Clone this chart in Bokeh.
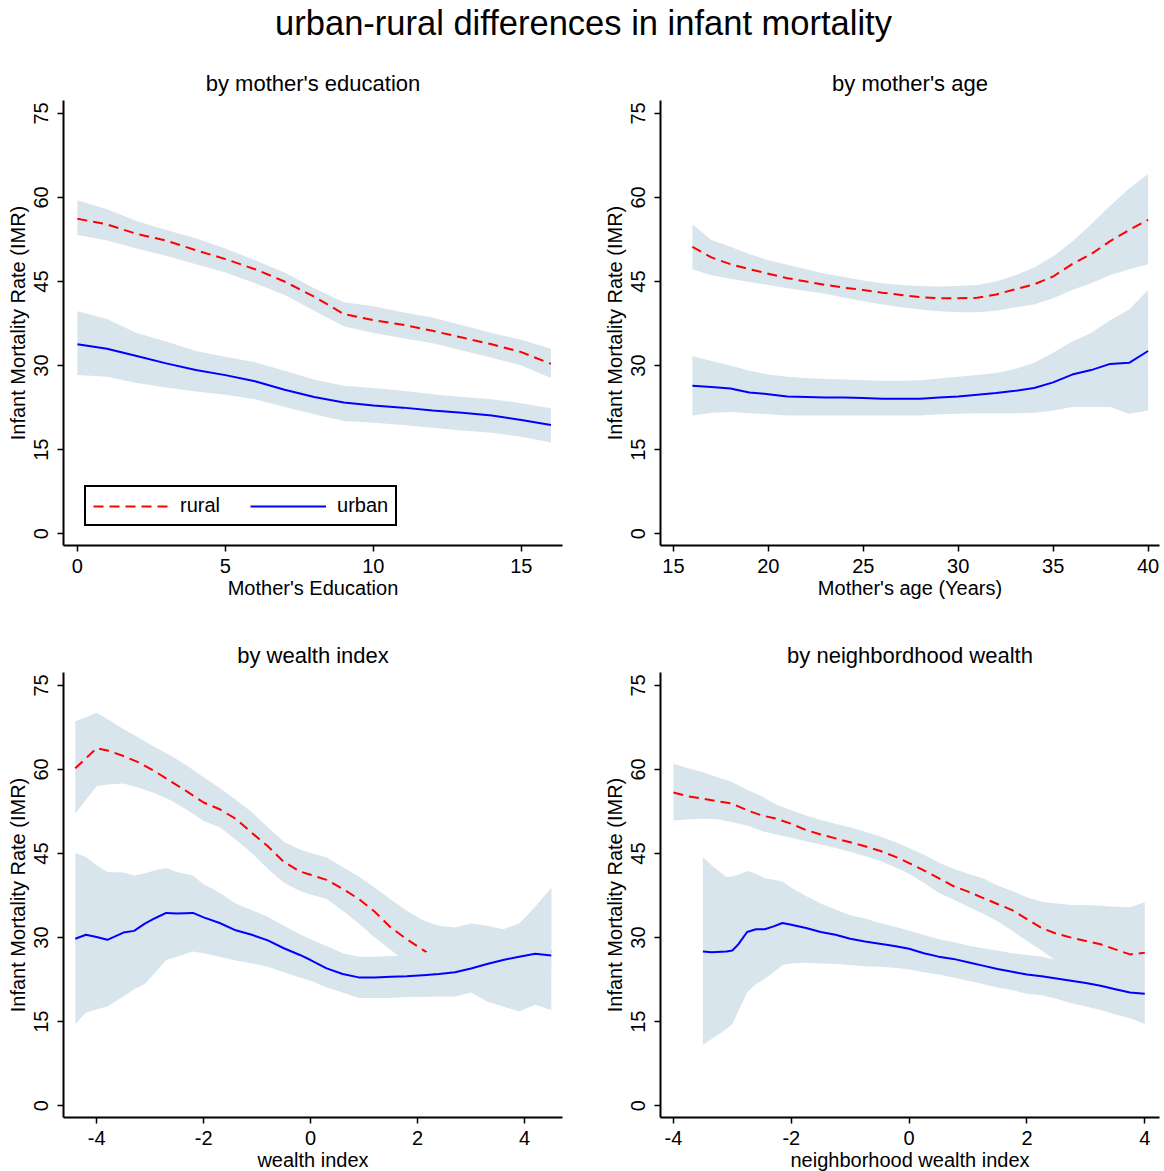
import math
from bokeh.plotting import figure
from bokeh.layouts import column, row
from bokeh.models import (ColumnDataSource, FixedTicker, Range1d, Legend, LegendItem, Label,
                          CustomJSTickFormatter)
from bokeh.embed import file_html
from bokeh.resources import INLINE

FONT = "Liberation Sans"
BAND = "#d9e5ec"
RED = "#ff0000"
BLUE = "#0000ff"

y_ticks = [0, 15, 30, 45, 60, 75]

# ---- panel 1: by mother's education ----
edu_x = list(range(17))
edu_rural = [56.2, 55.2, 53.5, 52.3, 50.6, 49.0, 47.2, 45.0, 42.3, 39.2, 38.1, 37.3, 36.2, 35.0, 33.8, 32.4, 30.3]
edu_rural_hi = [59.5, 57.9, 55.8, 54.2, 52.7, 50.9, 48.8, 46.6, 43.8, 41.3, 40.6, 39.5, 38.6, 37.2, 35.8, 34.6, 33.0]
edu_rural_lo = [53.3, 52.3, 50.9, 49.6, 48.1, 46.6, 44.7, 42.6, 39.8, 37.0, 35.8, 34.9, 34.0, 32.7, 31.4, 30.0, 27.8]
edu_urban = [33.8, 33.0, 31.7, 30.4, 29.2, 28.3, 27.2, 25.7, 24.4, 23.4, 22.9, 22.5, 22.0, 21.6, 21.1, 20.3, 19.4]
edu_urban_hi = [39.7, 38.3, 35.8, 34.3, 32.6, 31.6, 30.6, 29.1, 27.5, 26.4, 26.0, 25.5, 24.9, 24.4, 24.0, 23.3, 22.4]
edu_urban_lo = [28.3, 28.0, 26.9, 26.1, 25.4, 24.8, 24.0, 22.6, 21.3, 20.1, 19.8, 19.4, 18.9, 18.4, 18.0, 17.3, 16.3]
edu_ticks = [0, 5, 10, 15]

# ---- panel 2: by mother's age ----
age_x = list(range(16, 41))
age_rural = [51.2, 49.3, 48.1, 47.2, 46.4, 45.6, 45.0, 44.4, 43.9, 43.5, 43.0, 42.6, 42.2, 42.0, 42.0, 42.1, 42.7, 43.6, 44.5, 45.9, 48.1, 49.9, 52.2, 54.2, 56.0]
age_rural_hi = [55.2, 52.4, 51.2, 49.9, 48.8, 48.0, 47.2, 46.4, 45.8, 45.2, 44.7, 44.4, 44.2, 44.1, 44.2, 44.4, 45.0, 46.1, 47.5, 49.5, 52.1, 55.2, 58.5, 61.6, 64.2]
age_rural_lo = [47.2, 46.1, 45.5, 44.9, 44.4, 43.8, 43.3, 42.8, 42.1, 41.5, 40.9, 40.4, 40.0, 39.7, 39.5, 39.5, 39.8, 40.4, 40.9, 42.0, 43.5, 44.7, 46.1, 47.2, 48.1]
age_urban = [26.4, 26.2, 25.9, 25.2, 24.9, 24.5, 24.4, 24.3, 24.3, 24.2, 24.1, 24.1, 24.1, 24.3, 24.5, 24.8, 25.1, 25.5, 26.0, 27.0, 28.4, 29.2, 30.3, 30.5, 32.6]
age_urban_hi = [31.7, 30.8, 30.0, 29.1, 28.4, 28.0, 27.8, 27.6, 27.5, 27.4, 27.3, 27.3, 27.4, 27.7, 28.0, 28.3, 28.7, 29.4, 30.5, 32.3, 34.3, 35.8, 38.1, 40.0, 43.5]
age_urban_lo = [21.1, 21.6, 21.7, 21.5, 21.3, 21.1, 21.1, 21.1, 21.1, 21.1, 21.1, 21.1, 21.1, 21.3, 21.4, 21.5, 21.5, 21.5, 21.6, 22.0, 22.6, 22.6, 22.6, 21.4, 22.0]
age_ticks = [15, 20, 25, 30, 35, 40]

# ---- panel 3: by wealth index ----
wi_rural_x = [-4.4, -4.2, -4.0, -3.8, -3.5, -3.2, -2.9, -2.6, -2.3, -2.0, -1.7, -1.4, -1.1, -0.8, -0.5, -0.2, 0.0, 0.3, 0.6, 0.9, 1.2, 1.5, 1.8, 2.1, 2.4, 2.7, 3.0, 3.3, 3.6, 3.9, 4.2, 4.5]
wi_rural = [60.2, 62.0, 63.8, 63.4, 62.4, 61.2, 59.6, 57.8, 56.0, 54.1, 52.9, 51.2, 48.7, 46.3, 43.5, 41.8, 41.2, 40.3, 38.7, 36.9, 34.6, 31.8, 29.7, 27.8, 26.0, 25.5, 25.5, 25.8, 26.2, 26.8, 27.2, 27.5]
wi_rural_hi = [68.6, 69.3, 70.1, 69.0, 67.2, 65.6, 63.9, 62.4, 60.6, 58.6, 56.7, 54.6, 52.4, 49.7, 47.1, 45.7, 45.1, 44.3, 42.6, 40.9, 38.9, 36.8, 34.8, 33.1, 32.1, 31.8, 32.5, 32.1, 31.5, 32.5, 35.5, 38.9]
wi_rural_lo = [52.1, 54.6, 57.0, 57.3, 57.5, 56.7, 55.7, 54.4, 52.7, 50.8, 49.7, 47.5, 45.1, 42.3, 39.8, 38.3, 37.7, 36.9, 34.8, 32.5, 30.0, 27.8, 25.5, 24.5, 24.0, 23.5, 23.5, 23.5, 23.5, 23.5, 23.5, 23.5]
wi_urban_x = [-4.4, -4.2, -4.0, -3.8, -3.5, -3.3, -3.1, -2.9, -2.7, -2.5, -2.2, -2.0, -1.7, -1.4, -1.1, -0.8, -0.5, -0.2, 0.0, 0.3, 0.6, 0.9, 1.2, 1.5, 1.8, 2.1, 2.4, 2.7, 3.0, 3.3, 3.6, 3.9, 4.2, 4.5]
wi_urban = [29.8, 30.5, 30.1, 29.6, 30.9, 31.2, 32.5, 33.5, 34.4, 34.3, 34.4, 33.6, 32.6, 31.3, 30.5, 29.5, 28.1, 26.9, 26.0, 24.5, 23.5, 22.9, 22.9, 23.0, 23.1, 23.3, 23.5, 23.8, 24.5, 25.3, 26.0, 26.6, 27.1, 26.8]
wi_urban_hi = [45.1, 44.4, 42.9, 41.7, 41.6, 41.1, 41.5, 42.0, 42.4, 41.7, 41.1, 39.5, 38.0, 36.1, 34.9, 33.7, 32.1, 30.6, 29.7, 28.5, 27.2, 26.6, 26.6, 26.7, 26.8, 27.0, 29.0, 30.5, 31.0, 31.0, 31.0, 32.0, 35.0, 38.5]
wi_urban_lo = [14.6, 16.6, 17.2, 17.7, 19.5, 20.8, 21.7, 23.8, 26.0, 26.6, 27.5, 27.2, 26.6, 25.9, 25.4, 24.8, 23.8, 22.9, 22.3, 21.1, 20.2, 19.2, 19.2, 19.2, 19.4, 19.4, 19.5, 19.5, 20.2, 18.6, 17.7, 16.8, 18.0, 17.1]
wi_ticks = [-4, -2, 0, 2, 4]

# ---- panel 4: by neighborhood wealth ----
nw_rural_x = [-4.0, -3.75, -3.5, -3.25, -3.0, -2.75, -2.5, -2.25, -2.0, -1.75, -1.5, -1.25, -1.0, -0.75, -0.5, -0.25, 0.0, 0.25, 0.5, 0.75, 1.0, 1.25, 1.5, 1.75, 2.0, 2.25, 2.5, 2.75, 3.0, 3.25, 3.5, 3.75, 4.0]
nw_rural = [55.9, 55.2, 54.8, 54.3, 53.9, 52.7, 51.8, 51.2, 50.3, 49.2, 48.4, 47.7, 47.0, 46.3, 45.5, 44.5, 43.3, 42.0, 40.6, 39.2, 38.2, 37.1, 36.0, 34.9, 33.3, 31.7, 30.7, 30.0, 29.4, 28.8, 27.9, 27.0, 27.3]
nw_rural_hi = [61.0, 60.2, 59.5, 58.6, 57.7, 56.4, 55.2, 53.7, 52.7, 51.8, 51.0, 50.3, 49.7, 48.9, 48.1, 47.1, 46.0, 44.8, 43.4, 42.3, 41.4, 40.6, 39.3, 38.3, 37.2, 36.4, 36.1, 35.8, 35.8, 35.7, 35.5, 35.4, 36.3]
nw_rural_lo = [50.9, 51.1, 51.2, 51.1, 50.6, 50.0, 49.0, 48.4, 47.8, 47.2, 46.6, 46.0, 45.3, 44.5, 43.7, 42.6, 41.4, 39.8, 38.0, 36.8, 35.5, 34.3, 32.9, 31.2, 29.4, 27.7, 25.8, 25.2, 24.6, 24.0, 23.4, 22.8, 22.2]
nw_urban_x = [-3.5, -3.35, -3.1, -3.0, -2.9, -2.75, -2.6, -2.45, -2.3, -2.15, -2.0, -1.75, -1.5, -1.25, -1.0, -0.75, -0.5, -0.25, 0.0, 0.25, 0.5, 0.75, 1.0, 1.25, 1.5, 1.75, 2.0, 2.25, 2.5, 2.75, 3.0, 3.25, 3.5, 3.75, 4.0]
nw_urban = [27.5, 27.4, 27.5, 27.7, 28.8, 31.0, 31.5, 31.5, 32.0, 32.6, 32.3, 31.7, 31.0, 30.5, 29.8, 29.3, 28.9, 28.5, 28.0, 27.2, 26.6, 26.2, 25.6, 25.0, 24.4, 23.9, 23.4, 23.1, 22.7, 22.3, 21.9, 21.4, 20.8, 20.2, 20.0]
nw_urban_hi = [44.4, 42.9, 40.8, 40.9, 41.2, 41.9, 41.4, 40.6, 40.3, 40.0, 38.9, 37.4, 36.1, 35.0, 34.0, 33.4, 32.6, 32.0, 31.2, 30.5, 29.7, 29.2, 28.6, 28.1, 27.7, 27.2, 26.9, 26.6, 26.0, 25.7, 25.3, 25.0, 24.4, 23.8, 23.5]
nw_urban_lo = [10.9, 11.9, 13.7, 14.6, 16.8, 20.2, 21.7, 22.6, 23.8, 25.1, 25.4, 25.5, 25.4, 25.3, 25.1, 24.9, 24.8, 24.6, 24.3, 23.8, 23.4, 22.9, 22.3, 21.7, 21.1, 20.6, 20.0, 19.7, 19.1, 18.3, 17.7, 17.1, 16.3, 15.6, 14.6]
nw_ticks = [-4, -2, 0, 2, 4]

plain_fmt = CustomJSTickFormatter(code="return tick.toString();")


def make_panel(title, xlabel, xr, xticks, rx, rl, rlo, rhi, ux, ul, ulo, uhi,
               fw, fh, bl, br, bt, bb, legend=False):
    p = figure(frame_width=fw, frame_height=fh, x_range=Range1d(*xr),
               y_range=Range1d(-2.1, 77.3), toolbar_location=None,
               output_backend="svg", background_fill_color="white",
               border_fill_color="white")
    p.min_border_left = bl
    p.min_border_right = br
    p.min_border_top = bt
    p.min_border_bottom = bb
    p.outline_line_color = None
    p.grid.visible = False
    p.title.text = title
    p.title.text_font = FONT
    p.title.text_font_size = "22px"
    p.title.text_font_style = "normal"
    p.title.text_color = "black"
    p.title.align = "center"
    p.title.standoff = 9

    rsrc = ColumnDataSource(dict(x=rx, y=rl, lo=rlo, hi=rhi))
    usrc = ColumnDataSource(dict(x=ux, y=ul, lo=ulo, hi=uhi))
    p.varea(x="x", y1="lo", y2="hi", source=rsrc, fill_color=BAND)
    r_line = p.line(x="x", y="y", source=rsrc, line_color=RED, line_width=2,
                    line_dash="10 6")
    p.varea(x="x", y1="lo", y2="hi", source=usrc, fill_color=BAND)
    u_line = p.line(x="x", y="y", source=usrc, line_color=BLUE, line_width=2)

    for ax in (p.xaxis[0], p.yaxis[0]):
        ax.axis_line_width = 2
        ax.axis_line_color = "black"
        ax.major_tick_out = 6
        ax.major_tick_in = 0
        ax.major_tick_line_width = 1.5
        ax.minor_tick_line_color = None
        ax.major_label_text_font = FONT
        ax.major_label_text_font_size = "20px"
        ax.major_label_text_color = "black"
        ax.axis_label_text_font = FONT
        ax.axis_label_text_font_size = "20px"
        ax.axis_label_text_font_style = "normal"
        ax.axis_label_text_color = "black"
        ax.formatter = plain_fmt

    p.xaxis.ticker = FixedTicker(ticks=xticks)
    p.xaxis.axis_label = xlabel
    p.xaxis.major_label_standoff = 7
    p.xaxis.axis_label_standoff = 1

    p.yaxis.ticker = FixedTicker(ticks=y_ticks)
    p.yaxis.axis_label = "Infant Mortality Rate (IMR)"
    p.yaxis.major_label_orientation = "parallel"
    p.yaxis.major_label_standoff = 9
    p.yaxis.axis_label_standoff = 3

    if legend:
        lg = Legend(items=[LegendItem(label="rural", renderers=[r_line]),
                           LegendItem(label="urban", renderers=[u_line])],
                    orientation="horizontal", location=(21, 19))
        lg.label_text_font = FONT
        lg.label_text_font_size = "20px"
        lg.label_text_color = "black"
        lg.glyph_width = 76
        lg.glyph_height = 20
        lg.label_standoff = 11
        lg.spacing = 30
        lg.padding = 7
        lg.margin = 0
        lg.border_line_color = "black"
        lg.border_line_alpha = 1
        lg.border_line_width = 2
        lg.background_fill_color = "white"
        lg.background_fill_alpha = 1
        p.add_layout(lg, "center")
    return p


FW, FH = 499, 445

p1 = make_panel("by mother's education", "Mother's Education", (-0.47, 16.39), edu_ticks,
                edu_x, edu_rural, edu_rural_lo, edu_rural_hi,
                edu_x, edu_urban, edu_urban_lo, edu_urban_hi,
                FW, FH, 63, 35, 40, 87, legend=True)
p2 = make_panel("by mother's age", "Mother's age (Years)", (14.32, 40.6), age_ticks,
                age_x, age_rural, age_rural_lo, age_rural_hi,
                age_x, age_urban, age_urban_lo, age_urban_hi,
                FW, FH, 63, 4, 40, 87)
p3 = make_panel("by wealth index", "wealth index", (-4.62, 4.71), wi_ticks,
                wi_rural_x, wi_rural, wi_rural_lo, wi_rural_hi,
                wi_urban_x, wi_urban, wi_urban_lo, wi_urban_hi,
                FW, FH, 63, 35, 40, 50)
p4 = make_panel("by neighbordhood wealth", "neighborhood wealth index", (-4.22, 4.25), nw_ticks,
                nw_rural_x, nw_rural, nw_rural_lo, nw_rural_hi,
                nw_urban_x, nw_urban, nw_urban_lo, nw_urban_hi,
                FW, FH, 63, 4, 40, 50)

# main title as its own small canvas
TW = 63 + FW + 35 + 63 + FW + 4
pt = figure(width=TW, height=60, x_range=Range1d(0, TW), y_range=Range1d(60, 0),
            toolbar_location=None, output_backend="svg", min_border=0)
pt.axis.visible = False
pt.grid.visible = False
pt.outline_line_color = None
pt.add_layout(Label(x=583, y=22, text="urban-rural differences in infant mortality",
                    text_font=FONT, text_font_size="34.5px", text_align="center",
                    text_baseline="middle", text_color="black"))

layout = column(pt, row(p1, p2), row(p3, p4))
open("out.html", "w").write(file_html(layout, INLINE))
